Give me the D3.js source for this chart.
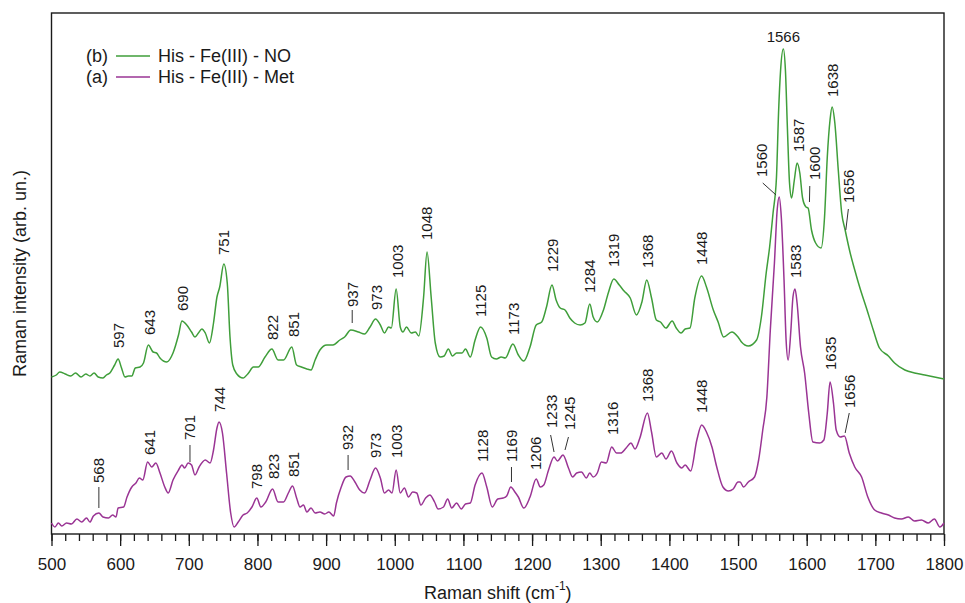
<!DOCTYPE html>
<html>
<head>
<meta charset="utf-8">
<script src="https://cdn.jsdelivr.net/npm/d3@7"></script>
<style>
  html, body { margin: 0; padding: 0; background: #fff; }
  svg { display: block; font-family: "Liberation Sans", Arial, sans-serif; }
</style>
</head>
<body>
<svg id="chart" width="965" height="603"></svg>
<script>
// Raman spectra, intensity in arbitrary units
const shiftNO = [500,507,512,520,528,535,543,550,556,562,568,575,580,585,592,597,602,607,612,617,622,629,634,641,648,653,658,668,677,685,690,697,704,709,714,719,724,730,736,741,745,751,756,760,764,770,779,787,794,801,811,821,830,838,850,857,864,872,878,884,891,901,910,920,927,936,947,956,964,972,979,985,991,995,1002,1008,1012,1017,1024,1030,1035,1042,1047,1053,1059,1066,1072,1078,1084,1090,1098,1103,1110,1117,1125,1134,1141,1148,1155,1161,1172,1180,1188,1197,1206,1214,1221,1229,1235,1241,1248,1255,1262,1270,1277,1284,1289,1295,1304,1311,1319,1327,1334,1343,1352,1360,1367,1374,1381,1387,1395,1404,1410,1417,1423,1430,1437,1447,1454,1464,1471,1479,1491,1500,1505,1515,1527,1534,1541,1546,1551,1556,1559,1562,1566,1569,1572,1575,1578,1582,1586,1590,1594,1599,1602,1607,1613,1621,1626,1630,1634,1637,1641,1646,1651,1656,1663,1670,1678,1687,1697,1706,1719,1728,1743,1757,1772,1786,1800];
const intNO = [156,158,161,159,157,160,156,159,157,160,156,155,158,160,168,174,165,156,157,157,165,166,170,188,181,180,175,171,180,198,212,208,201,196,200,204,200,190,210,236,246,269,250,196,168,159,155,160,166,166,176,184,173,173,186,168,166,164,163,173,183,188,188,193,196,203,201,199,206,214,208,200,206,205,244,206,201,206,200,201,197,236,281,236,190,176,177,184,177,180,180,184,176,193,206,195,176,174,176,175,189,178,172,186,208,211,226,248,233,225,223,215,210,208,210,229,216,211,223,240,254,248,242,235,218,231,253,235,213,211,205,212,205,200,204,205,235,257,246,223,211,196,201,196,191,187,193,216,260,286,320,356,420,463,484,463,403,350,335,353,370,360,335,326,325,303,290,285,316,376,413,426,410,363,320,303,281,263,244,225,203,185,177,170,163,160,158,156,154];

const shiftMet = [500,505,510,515,522,529,537,544,551,556,561,569,575,583,589,594,597,605,610,617,623,628,633,640,646,652,658,665,670,677,685,690,694,699,704,709,715,724,731,736,741,744,749,755,761,766,772,779,785,792,799,805,812,822,830,838,845,851,857,862,867,872,878,884,891,898,904,911,915,922,929,935,942,949,956,964,972,979,985,991,996,1002,1008,1014,1020,1026,1032,1038,1045,1051,1058,1063,1071,1077,1083,1090,1097,1103,1110,1117,1127,1134,1142,1150,1158,1163,1169,1175,1180,1188,1197,1206,1212,1217,1224,1232,1237,1245,1253,1259,1265,1272,1279,1284,1289,1295,1301,1308,1316,1323,1329,1337,1344,1350,1357,1368,1374,1381,1389,1395,1403,1411,1418,1423,1431,1440,1447,1454,1462,1469,1478,1486,1493,1500,1503,1508,1515,1524,1530,1536,1542,1547,1553,1557,1560,1563,1567,1570,1573,1577,1580,1583,1586,1591,1597,1603,1609,1619,1625,1630,1634,1639,1643,1649,1655,1662,1670,1680,1689,1699,1709,1719,1728,1738,1748,1757,1767,1777,1786,1794,1800];
const intMet = [10,6,10,7,10,9,14,11,15,11,17,20,16,15,18,16,25,26,36,46,50,55,53,71,66,70,60,46,40,53,63,68,65,70,68,58,66,73,70,83,105,111,100,60,20,6,11,18,20,26,35,26,31,44,31,31,40,47,35,26,28,21,25,20,21,19,21,17,30,46,56,57,51,43,40,53,65,55,40,43,40,63,40,45,36,41,40,28,35,38,31,24,26,34,25,30,24,29,30,48,60,46,26,34,35,37,46,41,36,25,36,54,46,48,63,76,72,78,65,56,60,61,55,60,56,60,71,70,86,80,80,85,90,84,95,120,101,76,80,74,82,70,65,68,62,93,108,101,86,66,46,42,44,51,51,46,51,56,73,103,136,203,270,323,336,316,253,193,173,203,236,244,230,186,160,120,91,90,93,120,151,130,103,96,97,80,66,56,36,23,20,18,15,14,16,12,13,10,14,6,10];

// peak annotations: [text, shift where the text sits, intensity level where the text starts]
const peaksNO = [["597",597,185],["643",643.5,198],["690",691,222],["751",751,278],["822",822,193],["851",852,196],["937",938,226],["973",973.7,223],["1003",1003.7,255],["1048",1047,293],["1125",1125,216],["1173",1173.7,198],["1229",1230,261],["1284",1284,240],["1319",1319,266],["1368",1368,265],["1448",1447,268],["1587",1588,381],["1600",1612,353],["1638",1638,436],["1656",1661,330]];
const peaksMet = [["568",569,50],["641",643.5,78],["701",701.7,93],["744",745.5,121],["798",799,44],["823",823,54],["851",852,56],["932",932,83],["973",972.7,75],["1003",1003,75],["1128",1127.5,71],["1169",1170,71],["1206",1205.8,63],["1233",1228.6,105],["1245",1254,103],["1316",1317.5,98],["1368",1368,131],["1448",1447,120],["1560",1534.5,356],["1583",1584,255],["1635",1635.5,163],["1656",1662,125]];
const topPeak = ["1566", 1566, 491];
// leader lines: [shift1, level1, shift2, level2]
const leaders = [[938,223,938,210],[1604.5,347,1604,331],[1660.7,324,1657,303],[569,46,569,25],[701.7,88,701.7,71],[932,78,932,63],[1170,66,1170,51],[1227,98,1232,81],[1253,96,1248,83],[1536,350,1555.4,338],[1662,120,1656,100]];

const legendItems = ["(b)", "(a)"];
const legendNames = ["His - Fe(III) - NO", "His - Fe(III) - Met"];
const xTicksMajor = [500,600,700,800,900,1000,1100,1200,1300,1400,1500,1600,1700,1800];

const COL_NO = "#3f9e3a", COL_MET = "#9a3494", INK = "#1a1a1a";
const L = 51.5, R = 944, T = 13, B = 534;

const svg = d3.select("#chart");
const x = d3.scaleLinear().domain([500, 1800]).range([L, R]);
const y = d3.scaleLinear().domain([0, 520]).range([B - 1, T]);

// frame
svg.append("rect").attr("x", L).attr("y", T).attr("width", R - L).attr("height", B - T)
  .attr("fill", "none").attr("stroke", INK).attr("stroke-width", 1.4);

// x axis: minor every 20, labelled every 100, ticks pointing outward
const ax = svg.append("g").attr("transform", `translate(0,${B})`);
ax.call(d3.axisBottom(x).tickValues(d3.range(500, 1801, 20)).tickSize(7).tickFormat(""))
  .call(g => g.select(".domain").remove());
ax.append("g").call(d3.axisBottom(x).tickValues(xTicksMajor).tickSize(12).tickPadding(12).tickFormat(d3.format("d")))
  .call(g => g.select(".domain").remove())
  .call(g => g.selectAll("text").attr("fill", INK).style("font-size", "17px")
    .style("font-family", '"Liberation Sans", Arial, sans-serif'));
ax.selectAll("line").attr("stroke", INK).attr("stroke-width", 1.3);

// axis titles
const xt = svg.append("text").attr("x", (L + R) / 2).attr("y", 599).attr("text-anchor", "middle")
  .attr("fill", INK).style("font-size", "18px");
xt.append("tspan").text("Raman shift (cm");
xt.append("tspan").attr("dy", -9).style("font-size", "12px").text("-1");
xt.append("tspan").attr("dy", 9).text(")");

svg.append("text").attr("transform", `translate(26,${(T + B) / 2}) rotate(-90)`)
  .attr("text-anchor", "middle").attr("fill", INK).style("font-size", "18px")
  .text("Raman intensity (arb. un.)");

// spectra
const line = d3.line().x(d => x(d[0])).y(d => y(d[1])).curve(d3.curveMonotoneX);
const g = svg.append("g");
g.append("path").datum(d3.zip(shiftMet, intMet)).attr("d", line)
  .attr("fill", "none").attr("stroke", COL_MET).attr("stroke-width", 1.5);
g.append("path").datum(d3.zip(shiftNO, intNO)).attr("d", line)
  .attr("fill", "none").attr("stroke", COL_NO).attr("stroke-width", 1.5);

// annotations
const ann = svg.append("g").attr("fill", INK).style("font-size", "15px");
peaksNO.concat(peaksMet).forEach(p => {
  ann.append("text")
    .attr("transform", `translate(${x(p[1])},${y(p[2])}) rotate(-90)`)
    .attr("dy", "0.36em").text(p[0]);
});
ann.append("text").attr("x", x(topPeak[1])).attr("y", y(topPeak[2]))
  .attr("text-anchor", "middle").text(topPeak[0]);
svg.append("g").selectAll("line").data(leaders).join("line")
  .attr("x1", d => x(d[0])).attr("y1", d => y(d[1]))
  .attr("x2", d => x(d[2])).attr("y2", d => y(d[3]))
  .attr("stroke", "#333").attr("stroke-width", 1);

// legend
const lg = svg.append("g").style("font-size", "18px").attr("fill", INK);
[COL_NO, COL_MET].forEach((c, i) => {
  const yy = 62 + i * 21;
  lg.append("text").attr("x", 86).attr("y", yy).text(legendItems[i]);
  lg.append("line").attr("x1", 116).attr("x2", 150).attr("y1", yy - 6).attr("y2", yy - 6)
    .attr("stroke", c).attr("stroke-width", 1.5);
  lg.append("text").attr("x", 158).attr("y", yy).text(legendNames[i]);
});
</script>
</body>
</html>
